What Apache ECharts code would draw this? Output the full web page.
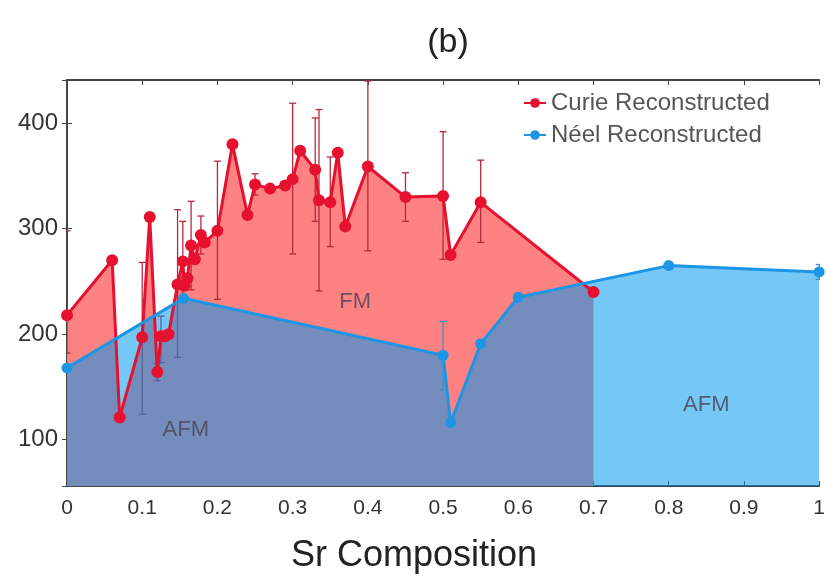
<!DOCTYPE html>
<html>
<head>
<meta charset="utf-8">
<script src="https://cdn.jsdelivr.net/npm/echarts@6/dist/echarts.min.js"></script>
<style>
  html, body { margin: 0; padding: 0; background: #fff; }
  #chart { width: 828px; height: 579px; }
</style>
</head>
<body>
<div id="chart"></div>
<script>
// Curie points (red)
var curieX = [0, 0.06, 0.07, 0.1, 0.11, 0.12, 0.125, 0.13, 0.135, 0.147, 0.154, 0.156, 0.16, 0.165, 0.17, 0.178, 0.183, 0.2,
              0.22, 0.24, 0.25, 0.27, 0.29, 0.3, 0.31, 0.33, 0.335, 0.35, 0.36, 0.37, 0.4, 0.45, 0.5, 0.51, 0.55, 0.7];
var curieY = [218, 270, 121, 197, 311, 164, 198, 198, 200, 247, 269, 246, 253, 284, 271, 294, 287, 298,
              380, 313, 342, 338, 341, 347, 374, 356, 327, 325, 372, 302, 359, 330, 331, 275, 325, 240];

// Curie error bars: x, low, high
var curieErrX  = [0, 0.1, 0.12, 0.125, 0.147, 0.154, 0.165, 0.178, 0.2, 0.25, 0.3, 0.33, 0.335, 0.35, 0.4, 0.45, 0.5, 0.55];
var curieErrLo = [182, 124, 156, 173, 178, 230, 242, 276, 233, 332, 276, 307, 241, 283, 279, 307, 271, 287];
var curieErrHi = [298, 268, 172, 217, 318, 307, 326, 312, 364, 352, 419, 405, 413, 368, 440, 353, 392, 365];

// Neel points (blue)
var neelX = [0, 0.155, 0.5, 0.51, 0.55, 0.6, 0.8, 1.0];
var neelY = [168, 234, 180, 116, 191, 235, 265, 259];

var neelErrX  = [0.5, 1.0];
var neelErrLo = [147, 252];
var neelErrHi = [212, 266];

// region labels
var regionNames = ['FM', 'AFM', 'AFM'];
var regionX = [0.383, 0.158, 0.85];
var regionY = [231, 109, 133];

function pairs(xs, ys) {
  var out = [];
  for (var i = 0; i < xs.length; i++) out.push([xs[i], ys[i]]);
  return out;
}
function triples(xs, lo, hi) {
  var out = [];
  for (var i = 0; i < xs.length; i++) out.push([xs[i], lo[i], hi[i]]);
  return out;
}
function errorBar(color) {
  return function (params, api) {
    var x = api.value(0);
    var p1 = api.coord([x, api.value(1)]);
    var p2 = api.coord([x, api.value(2)]);
    var w = 3.5;
    var st = { stroke: color, lineWidth: 1.3 };
    return {
      type: 'group',
      children: [
        { type: 'line', shape: { x1: p1[0], y1: p1[1], x2: p2[0], y2: p2[1] }, style: st },
        { type: 'line', shape: { x1: p1[0] - w, y1: p1[1], x2: p1[0] + w, y2: p1[1] }, style: st },
        { type: 'line', shape: { x1: p2[0] - w, y1: p2[1], x2: p2[0] + w, y2: p2[1] }, style: st }
      ]
    };
  };
}

var font = 'Liberation Sans';
var frame = { show: true, lineStyle: { color: '#444', width: 1.8 } };

var myChart = echarts.init(document.getElementById('chart'));

var option = {
  animation: false,
  textStyle: { fontFamily: font },
  title: [
    { text: '(b)', left: 443, textAlign: 'center', top: 21, textStyle: { fontFamily: font, fontSize: 34, fontWeight: 'normal', color: '#222' } }
  ],
  legend: {
    data: ['Curie Reconstructed', 'Néel Reconstructed'],
    orient: 'vertical',
    left: 521, top: 89,
    itemWidth: 22, itemHeight: 12, itemGap: 8,
    backgroundColor: '#fff',
    padding: [2, 6, 2, 2],
    textStyle: { fontFamily: font, fontSize: 24, color: '#555' }
  },
  grid: { left: 67, right: 5, top: 80, bottom: 92, containLabel: false },
  xAxis: [
    {
      type: 'value', min: 0, max: 1, interval: 0.1,
      name: 'Sr Composition', nameLocation: 'middle', nameGap: 52,
      nameTextStyle: { fontFamily: font, fontSize: 36, color: '#222', padding: [0, 58, 0, 0] },
      axisLine: frame,
      axisTick: { inside: true, length: 5, lineStyle: { color: '#444' } },
      axisLabel: { fontSize: 21, color: '#333', margin: 12 },
      splitLine: { show: false }
    },
    {
      type: 'value', min: 0, max: 1, interval: 0.1, position: 'top',
      axisLine: frame,
      axisTick: { inside: true, length: 5, lineStyle: { color: '#444' } },
      axisLabel: { show: false },
      splitLine: { show: false }
    }
  ],
  yAxis: [
    {
      type: 'value', min: 56, max: 441, splitNumber: 4,
      axisLine: frame,
      axisTick: { inside: true, length: 5, lineStyle: { color: '#444' } },
      axisLabel: { fontSize: 24, color: '#333', margin: 9, showMinLabel: false, showMaxLabel: false },
      splitLine: { show: false }
    },
    {
      type: 'value', min: 56, max: 441, splitNumber: 4, position: 'right',
      axisLine: frame,
      axisTick: { inside: true, length: 5, lineStyle: { color: '#444' } },
      axisLabel: { show: false },
      splitLine: { show: false }
    }
  ],
  series: [
    {
      name: 'Curie Reconstructed', type: 'line',
      data: pairs(curieX, curieY),
      symbol: 'circle', symbolSize: 12,
      itemStyle: { color: '#e5112f' },
      lineStyle: { color: '#e5112f', width: 3 },
      areaStyle: { color: 'rgb(255,130,130)', opacity: 1 },
      z: 2
    },
    {
      name: 'curieErr', type: 'custom',
      data: triples(curieErrX, curieErrLo, curieErrHi),
      renderItem: errorBar('#b8283c'),
      clip: true, z: 2
    },
    {
      name: 'Néel Reconstructed', type: 'line',
      data: pairs(neelX, neelY),
      symbol: 'circle', symbolSize: 11,
      itemStyle: { color: '#1c96e4' },
      lineStyle: { color: '#1c96e4', width: 3 },
      areaStyle: { color: 'rgba(0,152,238,0.54)', opacity: 1 },
      z: 2
    },
    {
      name: 'neelErr', type: 'custom',
      data: triples(neelErrX, neelErrLo, neelErrHi),
      renderItem: errorBar('#3c8fd0'),
      clip: true, z: 2
    },
    {
      name: 'regions', type: 'scatter',
      data: regionX.map(function (x, i) { return { name: regionNames[i], value: [x, regionY[i]] }; }),
      symbolSize: 0, silent: true,
      label: {
        show: true, position: 'inside', formatter: '{b}',
        fontFamily: font, fontSize: 22, color: '#484450'
      },
      z: 3
    }
  ]
};

myChart.setOption(option);
</script>
</body>
</html>
